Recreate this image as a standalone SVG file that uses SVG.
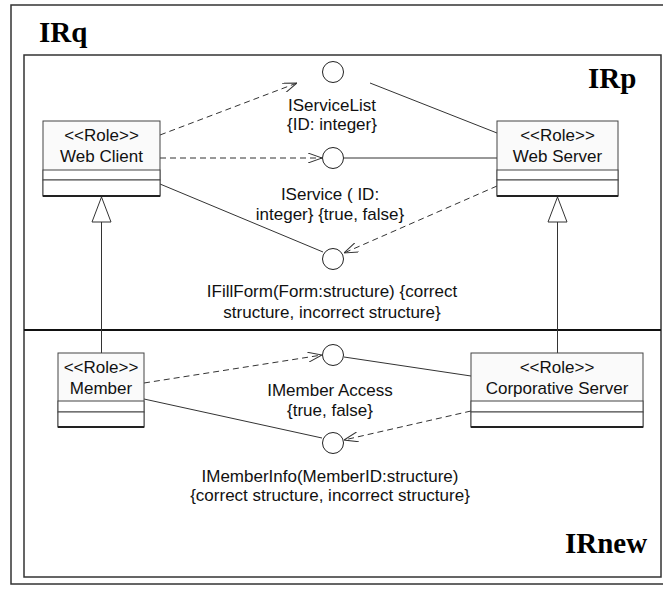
<svg xmlns="http://www.w3.org/2000/svg" width="663" height="589" viewBox="0 0 663 589">
<style>
.frame{fill:none;stroke:#333;stroke-width:1.5}
.title{font-family:"Liberation Serif","Times New Roman",serif;font-weight:bold;font-size:29px;fill:#000}
.box{fill:#fafafa;stroke:#444;stroke-width:1}
.cmp{fill:#fff;stroke:#444;stroke-width:1}
.bot{stroke:#222;stroke-width:2}
.t{font-family:"Liberation Sans",Arial,sans-serif;font-size:17px;fill:#111;text-anchor:middle}
.iface{fill:#fff;stroke:#222;stroke-width:1}
.solid{fill:none;stroke:#333;stroke-width:1}
.dash{fill:none;stroke:#333;stroke-width:1;stroke-dasharray:6,4}
.gen{fill:#fff;stroke:#333;stroke-width:1}
</style>
<defs>
<marker id="open" viewBox="0 0 14 10" refX="14" refY="5" markerWidth="14" markerHeight="10" markerUnits="userSpaceOnUse" orient="auto">
<path d="M0,0 L14,5 L0,10" fill="none" stroke="#333" stroke-width="1"/>
</marker>
</defs>
<rect width="663" height="589" fill="#fff"/>
<g id="frames">
<rect class="frame" x="11" y="5" width="660" height="579" stroke="#555"/>
<rect class="frame" x="24" y="55" width="637" height="522"/>
<line x1="24" y1="330" x2="661" y2="330" stroke="#111" stroke-width="2"/>
<text class="title" x="39" y="42">IRq</text>
<text class="title" x="588" y="88">IRp</text>
<text class="title" x="565" y="553">IRnew</text>
</g>
<g id="connectors">
<line class="dash" x1="160" y1="135" x2="297" y2="83" marker-end="url(#open)"/>
<line class="solid" x1="370" y1="83" x2="497" y2="133"/>
<line class="dash" x1="160" y1="158" x2="322" y2="158" marker-end="url(#open)"/>
<line class="solid" x1="344" y1="158" x2="497" y2="158"/>
<line class="solid" x1="160" y1="184" x2="323" y2="252"/>
<line class="dash" x1="497" y1="186" x2="344" y2="253" marker-end="url(#open)"/>
<line class="dash" x1="144" y1="383" x2="322" y2="355" marker-end="url(#open)"/>
<line class="solid" x1="344" y1="357" x2="471" y2="376"/>
<line class="solid" x1="144" y1="399" x2="322" y2="438"/>
<line class="dash" x1="471" y1="411" x2="344" y2="440" marker-end="url(#open)"/>
<line class="solid" x1="101.5" y1="222" x2="101.5" y2="353"/>
<polygon class="gen" points="101.5,197 92,222 111,222"/>
<line class="solid" x1="557.5" y1="222" x2="557.5" y2="353"/>
<polygon class="gen" points="557.5,197 548,222 567,222"/>
</g>
<g id="iServiceList">
<circle class="iface" cx="333" cy="72" r="10.5"/>
<text class="t" x="332" y="111">IServiceList</text>
<text class="t" x="332" y="130">{ID: integer}</text>
</g>
<g id="iService">
<circle class="iface" cx="333" cy="158" r="10.5"/>
<text class="t" x="330" y="200">IService ( ID:</text>
<text class="t" x="330" y="220">integer} {true, false}</text>
</g>
<g id="iFillForm">
<circle class="iface" cx="333" cy="259" r="10.5"/>
<text class="t" x="332" y="297">IFillForm(Form:structure) {correct</text>
<text class="t" x="332" y="318">structure, incorrect structure}</text>
</g>
<g id="iMemberAccess">
<circle class="iface" cx="333" cy="355" r="10.5"/>
<text class="t" x="330" y="396">IMember Access</text>
<text class="t" x="330" y="416">{true, false}</text>
</g>
<g id="iMemberInfo">
<circle class="iface" cx="333" cy="443" r="10.5"/>
<text class="t" x="330" y="482">IMemberInfo(MemberID:structure)</text>
<text class="t" x="330" y="501">{correct structure, incorrect structure}</text>
</g>
<g id="webClient">
<rect class="box" x="43" y="121" width="117" height="75"/>
<rect class="cmp" x="43" y="170" width="117" height="10"/>
<rect class="cmp" x="43" y="180" width="117" height="16"/>
<line class="bot" x1="43" y1="196" x2="160" y2="196"/>
<text class="t" x="101.5" y="141">&lt;&lt;Role&gt;&gt;</text>
<text class="t" x="101.5" y="162">Web Client</text>
</g>
<g id="webServer">
<rect class="box" x="497" y="121" width="121" height="75"/>
<rect class="cmp" x="497" y="170" width="121" height="10"/>
<rect class="cmp" x="497" y="180" width="121" height="16"/>
<line class="bot" x1="497" y1="196" x2="618" y2="196"/>
<text class="t" x="557.5" y="141">&lt;&lt;Role&gt;&gt;</text>
<text class="t" x="557.5" y="162">Web Server</text>
</g>
<g id="member">
<rect class="box" x="58" y="353" width="86" height="74"/>
<rect class="cmp" x="58" y="401" width="86" height="11"/>
<rect class="cmp" x="58" y="412" width="86" height="15"/>
<line class="bot" x1="58" y1="427" x2="144" y2="427"/>
<text class="t" x="101" y="373">&lt;&lt;Role&gt;&gt;</text>
<text class="t" x="101" y="394">Member</text>
</g>
<g id="corporativeServer">
<rect class="box" x="471" y="353" width="172" height="74"/>
<rect class="cmp" x="471" y="401" width="172" height="11"/>
<rect class="cmp" x="471" y="412" width="172" height="15"/>
<line class="bot" x1="471" y1="427" x2="643" y2="427"/>
<text class="t" x="557" y="373">&lt;&lt;Role&gt;&gt;</text>
<text class="t" x="557" y="394">Corporative Server</text>
</g>
</svg>
